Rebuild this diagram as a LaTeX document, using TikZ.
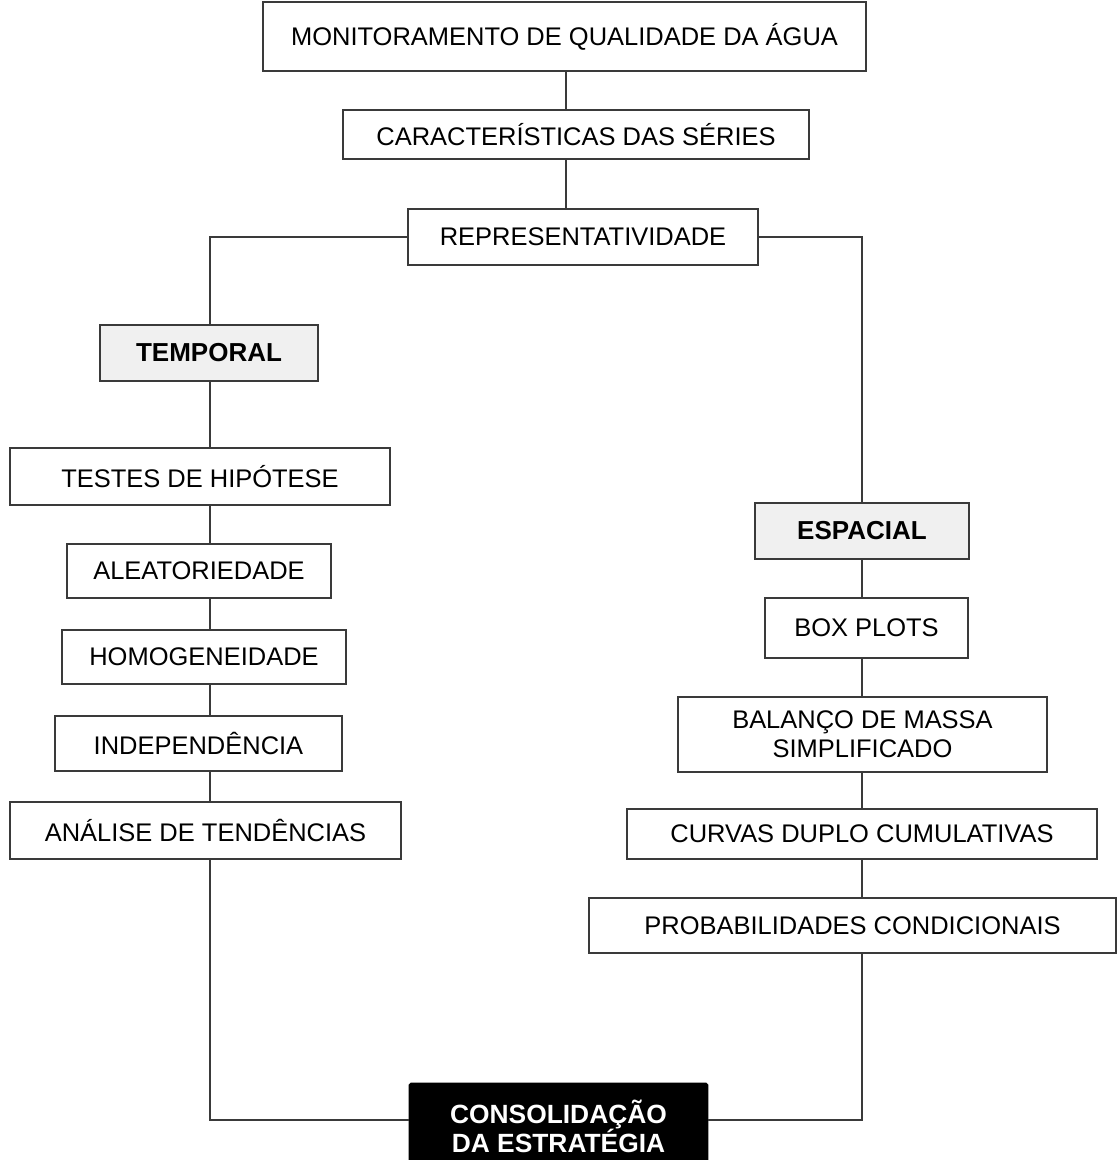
\documentclass[tikz,border=0pt]{standalone}
\usepackage{fontspec}
\setmainfont{Liberation Sans}
\usepackage{tikz}
\usepackage{xcolor}

\definecolor{linegray}{HTML}{3A3A3A}
\definecolor{headfill}{HTML}{F0F0F0}

\begin{document}
\begin{tikzpicture}[
	x=0.02cm, y=-0.02cm,
	box/.style={draw=linegray, line width=0.7pt, fill=white, align=center, inner sep=1pt,
		font=\fontsize{14.5}{16.5}\selectfont},
	head/.style={box, fill=headfill, font=\fontsize{14.8}{16.5}\selectfont\bfseries},
	final/.style={draw=black, fill=black, text=white, rounded corners=1pt, align=center, inner sep=1pt,
		font=\fontsize{15}{16.5}\selectfont\bfseries},
	link/.style={draw=linegray, line width=0.7pt}
]
	\useasboundingbox (0,0) rectangle (1117,1160);
	\clip (0,0) rectangle (1117,1160);

	% tronco
	\coordinate (tr) at (566,0);
	\node[box, minimum width=12.06cm, minimum height=1.38cm] (mon) at (564.5,36.5) {MONITORAMENTO DE QUALIDADE DA ÁGUA};
	\node[box, minimum width=9.32cm, minimum height=0.98cm] (car) at (576,134.5) {CARACTERÍSTICAS DAS SÉRIES};
	\node[box, minimum width=7.0cm, minimum height=1.12cm] (rep) at (583,237) {REPRESENTATIVIDADE};

	% ramo temporal
	\coordinate (tl) at (210,0);
	\node[head, minimum width=4.36cm, minimum height=1.12cm] (tmp) at (209,353) {TEMPORAL};
	\node[box, minimum width=7.6cm, minimum height=1.14cm] (tst) at (200,476.5) {TESTES DE HIPÓTESE};
	\node[box, minimum width=5.28cm, minimum height=1.08cm] (ale) at (199,571) {ALEATORIEDADE};
	\node[box, minimum width=5.68cm, minimum height=1.08cm] (hom) at (204,657) {HOMOGENEIDADE};
	\node[box, minimum width=5.74cm, minimum height=1.1cm] (ind) at (198.5,743.5) {INDEPENDÊNCIA};
	\node[box, minimum width=7.82cm, minimum height=1.14cm] (ana) at (205.5,830.5) {ANÁLISE DE TENDÊNCIAS};

	% ramo espacial
	\coordinate (el) at (862,0);
	\node[head, minimum width=4.28cm, minimum height=1.12cm] (esp) at (862,531) {ESPACIAL};
	\node[box, minimum width=4.06cm, minimum height=1.2cm] (bxp) at (866.5,628) {BOX PLOTS};
	\node[box, minimum width=7.38cm, minimum height=1.5cm] (bal) at (862.5,734.5) {BALANÇO DE MASSA\\SIMPLIFICADO};
	\node[box, minimum width=9.4cm, minimum height=1.0cm] (cur) at (862,834) {CURVAS DUPLO CUMULATIVAS};
	\node[box, minimum width=10.54cm, minimum height=1.1cm] (prb) at (852.5,925.5) {PROBABILIDADES CONDICIONAIS};

	% consolidacao
	\node[final, minimum width=5.98cm, minimum height=1.74cm] (con) at (558.5,1126.5) {CONSOLIDAÇÃO\\DA ESTRATÉGIA};
	\coordinate (base) at (0,1120);

	\draw[link] (mon.south -| tr) -- (car.north -| tr);
	\draw[link] (car.south -| tr) -- (rep.north -| tr);
	\draw[link] (rep.west) -| (tmp.north -| tl);
	\draw[link] (rep.east) -| (esp.north -| el);
	\draw[link] (tmp.south -| tl) -- (tst.north -| tl);
	\draw[link] (tst.south -| tl) -- (ale.north -| tl);
	\draw[link] (ale.south -| tl) -- (hom.north -| tl);
	\draw[link] (hom.south -| tl) -- (ind.north -| tl);
	\draw[link] (ind.south -| tl) -- (ana.north -| tl);
	\draw[link] (esp.south -| el) -- (bxp.north -| el);
	\draw[link] (bxp.south -| el) -- (bal.north -| el);
	\draw[link] (bal.south -| el) -- (cur.north -| el);
	\draw[link] (cur.south -| el) -- (prb.north -| el);
	\draw[link] (ana.south -| tl) -- (base -| tl) -- (base -| con.west);
	\draw[link] (prb.south -| el) -- (base -| el) -- (base -| con.east);
\end{tikzpicture}
\end{document}
